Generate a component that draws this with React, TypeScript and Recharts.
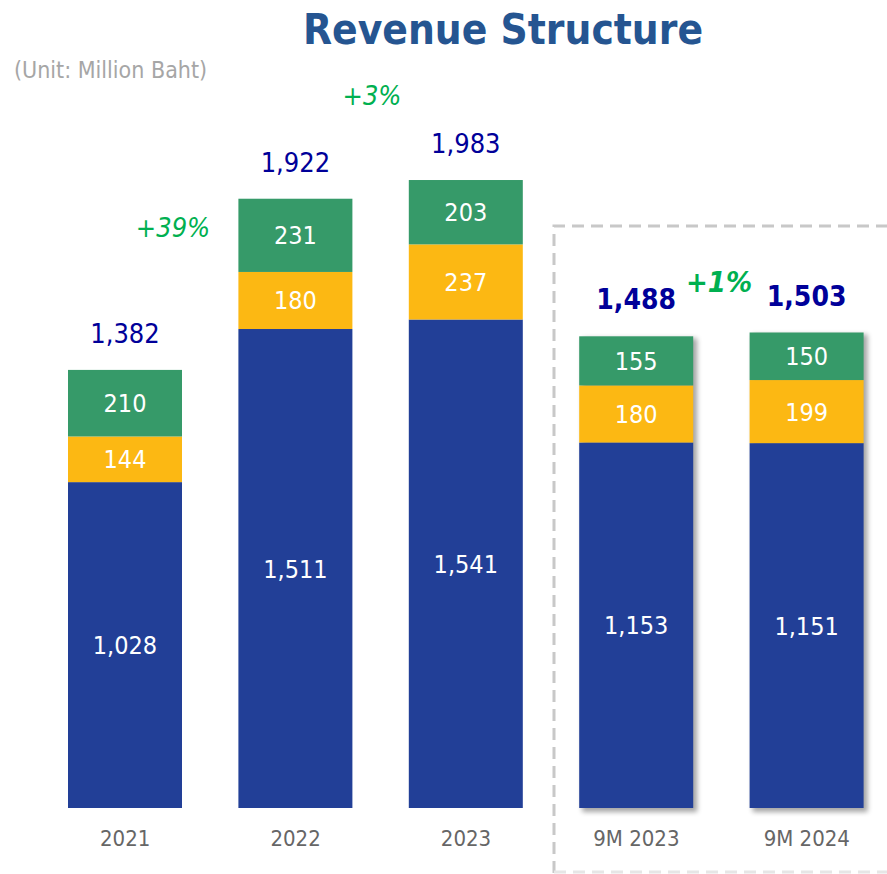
import React from 'react';
import { BarChart, Bar, XAxis, YAxis, LabelList } from 'recharts';

const categories = ['2021', '2022', '2023', '9M 2023', '9M 2024'];
const segmentA = [1028, 1511, 1541, 1153, 1151];
const segmentB = [144, 180, 237, 180, 199];
const segmentC = [210, 231, 203, 155, 150];
const totals = [1382, 1922, 1983, 1488, 1503];
const shadowed = [false, false, false, true, true];

const growthLabels = [
  { text: '+39%', x: 173, y: 237, bold: false, size: 27 },
  { text: '+3%', x: 372, y: 105, bold: false, size: 27 },
  { text: '+1%', x: 719, y: 292, bold: true, size: 29 },
];

const data = categories.map((c, i) => ({
  name: c,
  a: segmentA[i],
  b: segmentB[i],
  c: segmentC[i],
  total: totals[i],
  shadow: shadowed[i],
  idx: i,
}));

const FONT = '"DejaVu Sans Condensed", "DejaVu Sans", Verdana, sans-serif';
const BLUE = '#223F97';
const YELLOW = '#FCB813';
const GREEN = '#369A69';

const fmt = (v: number) => v.toLocaleString('en-US');

const BaseShape = (props: any) => {
  const { x, y, width, height, payload, fill } = props;
  const els: any[] = [];
  if (payload && payload.shadow && height > 0) {
    const scale = height / payload.a;
    const fullH = scale * (payload.a + payload.b + payload.c);
    const topY = y + height - fullH;
    els.push(
      <rect key="s" x={x + 3} y={topY + 2} width={width + 1} height={fullH + 2} fill="#000" opacity={0.35} filter="url(#barShadow)" />
    );
  }
  els.push(<rect key="m" x={x} y={y} width={width} height={height} fill={fill} />);
  return <g>{els}</g>;
};

const SegShape = (props: any) => {
  const { x, y, width, height, fill } = props;
  return <rect x={x} y={y} width={width} height={height} fill={fill} />;
};

const inLabel = (props: any) => {
  const { x, y, width, height, value } = props;
  return (
    <text x={x + width / 2} y={y + height / 2} dy={9} textAnchor="middle" fill="#fff" fontSize={25} fontFamily={FONT}>
      {fmt(value)}
    </text>
  );
};

const totalLabel = (props: any) => {
  const { x, y, width, value, index } = props;
  const bold = index >= 3;
  return (
    <text x={x + width / 2} y={y - 27} textAnchor="middle" fill="#000099" fontSize={bold ? 28 : 27} fontWeight={bold ? 'bold' : 'normal'} fontFamily={FONT}>
      {fmt(value)}
    </text>
  );
};

const CatTick = (props: any) => {
  const { x, y, payload } = props;
  return (
    <text x={x} y={y + 30} textAnchor="middle" fill="#666" fontSize={22} fontFamily={FONT}>
      {payload.value}
    </text>
  );
};

export default function App() {
  return (
    <div style={{ position: 'absolute', left: 0, top: 0, width: 887, height: 874, overflow: 'hidden', background: '#fff' }}>
      <BarChart width={900} height={874} data={data} margin={{ top: 174, right: 8, left: 40, bottom: 0 }}>
        <defs>
          <filter id="barShadow" x="-20%" y="-20%" width="140%" height="140%">
            <feGaussianBlur stdDeviation="2.5" />
          </filter>
        </defs>
        <YAxis hide domain={[0, 2000]} width={0} />
        <XAxis dataKey="name" height={66} axisLine={false} tickLine={false} tick={<CatTick />} interval={0} />
        <Bar dataKey="a" stackId="s" fill={BLUE} barSize={114} isAnimationActive={false} shape={<BaseShape />}>
          <LabelList dataKey="a" content={inLabel} />
        </Bar>
        <Bar dataKey="b" stackId="s" fill={YELLOW} barSize={114} isAnimationActive={false} shape={<SegShape />}>
          <LabelList dataKey="b" content={inLabel} />
        </Bar>
        <Bar dataKey="c" stackId="s" fill={GREEN} barSize={114} isAnimationActive={false} shape={<SegShape />}>
          <LabelList dataKey="c" content={inLabel} />
          <LabelList dataKey="total" content={totalLabel} />
        </Bar>
      </BarChart>
      <svg width={887} height={874} style={{ position: 'absolute', left: 0, top: 0, pointerEvents: 'none' }}>
        <text x={503} y={44} textAnchor="middle" fill="#255591" fontSize={42} fontWeight="bold" fontFamily={FONT}>
          Revenue Structure
        </text>
        <text x={14} y={78} fill="#A6A6A6" fontSize={23} fontFamily={FONT}>
          (Unit: Million Baht)
        </text>
        {growthLabels.map((g) => (
          <text key={g.text} x={g.x} y={g.y} textAnchor="middle" fill="#00B050" fontSize={g.size} fontStyle="italic" fontWeight={g.bold ? 'bold' : 'normal'} fontFamily={FONT}>
            {g.text}
          </text>
        ))}
        <path d="M 554 873 L 554 226 L 900 226" fill="none" stroke="#C8C8C8" strokeWidth={3} strokeDasharray="12 7" />
        <path d="M 554 872 L 900 872" fill="none" stroke="#E6E6E6" strokeWidth={3} strokeDasharray="12 7" />
      </svg>
    </div>
  );
}
